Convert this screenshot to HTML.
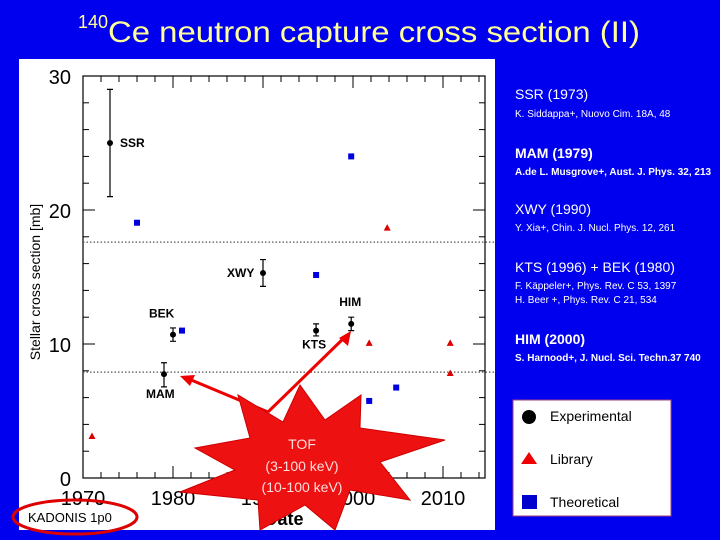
<!DOCTYPE html>
<html><head><meta charset="utf-8"><style>
html,body{margin:0;padding:0;background:#0000ee;width:720px;height:540px;overflow:hidden}
svg{display:block}
text{font-family:"Liberation Sans",sans-serif}
</style></head><body>
<svg id="s" width="720" height="540" xmlns="http://www.w3.org/2000/svg">
<rect x="0" y="0" width="720" height="540" fill="#0000ee"/>
<text x="78" y="28" fill="#ffff99" font-size="18">140</text>
<text x="108" y="42" fill="#ffff99" font-size="30" textLength="532" lengthAdjust="spacingAndGlyphs">Ce neutron capture cross section (II)</text>
<rect x="19" y="59" width="476" height="471" fill="#fff"/>
<g id="plot"></g>
<g fill="#fff">
<text x="515" y="99" font-size="14">SSR (1973)</text>
<text x="515" y="117" font-size="10">K. Siddappa+, Nuovo Cim. 18A, 48</text>
<text x="515" y="158" font-size="14" font-weight="bold">MAM (1979)</text>
<text x="515" y="175" font-size="10" font-weight="bold">A.de L. Musgrove+, Aust. J. Phys. 32, 213</text>
<text x="515" y="214" font-size="14">XWY (1990)</text>
<text x="515" y="231" font-size="10">Y. Xia+, Chin. J. Nucl. Phys. 12, 261</text>
<text x="515" y="272" font-size="14">KTS (1996) + BEK (1980)</text>
<text x="515" y="289" font-size="10">F. Käppeler+, Phys. Rev. C 53, 1397</text>
<text x="515" y="303" font-size="10">H. Beer +, Phys. Rev. C 21, 534</text>
<text x="515" y="344" font-size="14" font-weight="bold">HIM (2000)</text>
<text x="515" y="361" font-size="10" font-weight="bold">S. Harnood+, J. Nucl. Sci. Techn.37 740</text>
</g>
<g>
<rect x="513" y="400" width="158" height="116" fill="#fff" stroke="#a04080" stroke-width="1"/>
<circle cx="529" cy="417" r="7" fill="#000"/>
<text x="550" y="421" font-size="14" fill="#000">Experimental</text>
<polygon points="529,452 537,464 521,464" fill="#e00"/>
<text x="550" y="464" font-size="14" fill="#000">Library</text>
<rect x="522" y="495" width="15" height="14" fill="#0000cc"/>
<text x="550" y="507" font-size="14" fill="#000">Theoretical</text>
</g>
</svg>
<script>
const expLabels=["SSR","MAM","BEK","XWY","KTS","HIM"];
const expYears=[1973,1979,1980,1990,1995.9,1999.8];
const expValues=[25.0,7.75,10.7,15.3,11.0,11.5];
const expErrLow=[21.0,6.8,10.2,14.3,10.6,11.0];
const expErrHigh=[29.0,8.6,11.2,16.3,11.5,12.0];
const theoYears=[1976,1981,1995.9,1999.8,2001.8,2004.8];
const theoValues=[19.05,11.0,15.15,24.0,5.75,6.75];
const libYears=[1971,2001.8,2003.8,2010.8,2010.8];
const libValues=[3.1,10.05,18.65,10.05,7.8];
const refLines=[17.6,7.9];
const xTicks=[1970,1980,1990,2000,2010];
const yTicks=[0,10,20,30];
const NS="http://www.w3.org/2000/svg";
const L=83,R=485,T=76,B=478;
const X=y=>L+(y-1970)*9;
const Y=v=>B-(v/30)*(B-T);
const g=document.getElementById('plot');
function mk(tag,a,p){const e=document.createElementNS(NS,tag);for(const k in a)e.setAttribute(k,a[k]);(p||g).appendChild(e);return e;}
let e=mk('rect',{x:L,y:T,width:R-L,height:B-T,fill:'none',stroke:'#000','stroke-width':1.2});


for(let yr=1970;yr<=2014;yr+=2){const big=(yr%10===0);const len=big?12:6;
 e=mk('line',{x1:X(yr),x2:X(yr),y1:B,y2:B-len,stroke:'#000'});
 
 
 e=mk('line',{x1:X(yr),x2:X(yr),y1:T,y2:T+len,stroke:'#000'});
 
 }
for(let v=0;v<=30;v+=2){const big=(v%10===0);const len=big?12:6;
 e=mk('line',{x1:L,x2:L+len,y1:Y(v),y2:Y(v),stroke:'#000'});
 
 
 e=mk('line',{x1:R,x2:R-len,y1:Y(v),y2:Y(v),stroke:'#000'});
 
 }
xTicks.forEach(t=>{e=mk('text',{x:X(t),y:B+27,'text-anchor':'middle','font-size':20,fill:'#000'});e.textContent=t;
 
 });
yTicks.forEach(t=>{e=mk('text',{x:L-12,y:Y(t)+8,'text-anchor':'end','font-size':20,fill:'#000'});e.textContent=t;
 
 });
e=mk('text',{x:284,y:525,'text-anchor':'middle','font-size':18,'font-weight':'bold',fill:'#000'});e.textContent='Date';


e=mk('text',{x:40,y:282,'text-anchor':'middle','font-size':14,fill:'#000',transform:'rotate(-90 40 282)'});e.textContent='Stellar cross section [mb]';


refLines.forEach(v=>{e=mk('line',{x1:L,x2:R+10,y1:Y(v),y2:Y(v),stroke:'#555','stroke-dasharray':'1.5,2','stroke-width':1.2});
 
 });
theoYears.forEach((yr,i)=>{e=mk('rect',{x:X(yr)-3,y:Y(theoValues[i])-3,width:6,height:6,fill:'#0000dd'});
 
 });
libYears.forEach((yr,i)=>{const cx=X(yr),cy=Y(libValues[i]);e=mk('polygon',{points:`${cx},${cy-4} ${cx+3.5},${cy+2.5} ${cx-3.5},${cy+2.5}`,fill:'#dd0000'});
 
 });
const labOff={SSR:[10,4,'start'],MAM:[-18,24,'start'],BEK:[-24,-17,'start'],XWY:[-36,4,'start'],KTS:[-14,18,'start'],HIM:[-12,-18,'start']};
expYears.forEach((yr,i)=>{const cx=X(yr);
 e=mk('path',{d:`M${cx},${Y(expErrLow[i])}V${Y(expErrHigh[i])}M${cx-3},${Y(expErrLow[i])}h6M${cx-3},${Y(expErrHigh[i])}h6`,stroke:'#000','stroke-width':1.2,fill:'none'});
 
 
 e=mk('circle',{cx:cx,cy:Y(expValues[i]),r:3,fill:'#000'});
 
 
 const o=labOff[expLabels[i]];
 e=mk('text',{x:cx+o[0],y:Y(expValues[i])+o[1],'font-size':12,'font-weight':'bold','font-family':'Liberation Serif',fill:'#000'});e.textContent=expLabels[i];
 
 });
e=mk('path',{d:'M268,412 L184,377 M268,412 L347,335',stroke:'#e00','stroke-width':3,fill:'none'});


e=mk('polygon',{points:'180,376 195,375 190,386',fill:'#e00'});


e=mk('polygon',{points:'351,331 348,346 339,338',fill:'#e00'});


const sp=[[361,395],[360,428],[445,440],[380,462],[410,500],[350,490],[335,530],[305,505],[260,530],[258,500],[180,492],[235,470],[195,448],[250,438],[238,395],[283,422],[300,385],[325,420]];
e=mk('polygon',{points:sp.map(p=>p.join(',')).join(' '),fill:'#ee1111',stroke:'#cc0000'});


[['TOF',449],['(3-100 keV)',471],['(10-100 keV)',492]].forEach(t=>{e=mk('text',{x:302,y:t[1],'text-anchor':'middle','font-size':14,fill:'#ffdddd'});e.textContent=t[0];
 
 });
e=mk('ellipse',{cx:75,cy:517,rx:62,ry:17,fill:'none',stroke:'#dd0000','stroke-width':3});


e=mk('text',{x:28,y:522,'font-size':13,fill:'#000'});e.textContent='KADONIS 1p0';


</script>
</body></html>
